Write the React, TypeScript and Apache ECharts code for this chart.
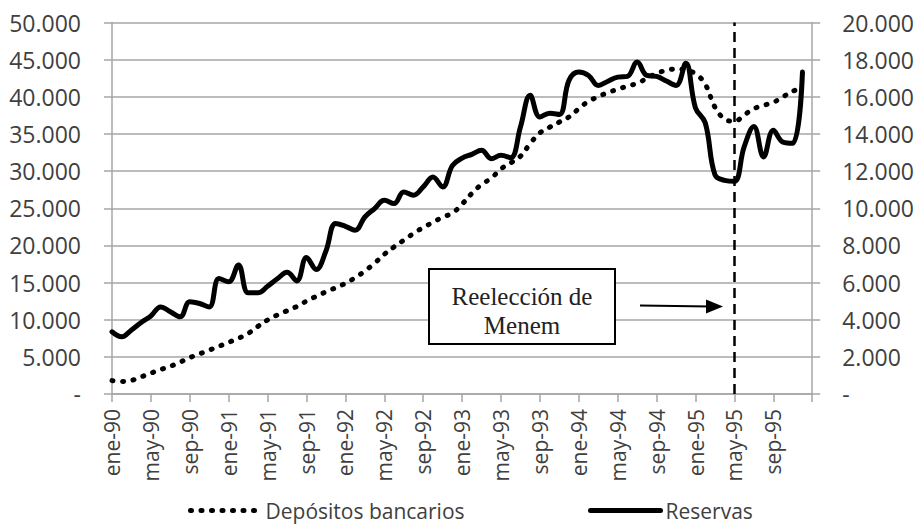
import React, { useEffect, useRef } from "react";
import * as echarts from "echarts";

const monthNames = ["ene", "feb", "mar", "abr", "may", "jun", "jul", "ago", "sep", "oct", "nov", "dic"];
const years = ["90", "91", "92", "93", "94", "95"];
const categories: string[] = [];
years.forEach((y) => monthNames.forEach((m) => categories.push(`${m}-${y}`)));
categories.push("ene-96");

const depositos = [
  1800, 1680, 1830, 2300, 2800, 3280, 3730, 4280, 4900, 5400,
  5900, 6420, 6950, 7500, 8150, 9100, 9970, 10630, 11200, 11780,
  12500, 13150, 13750, 14300, 14900, 15650, 16550, 17600, 18800, 19800,
  20700, 21600, 22400, 23100, 23800, 24350, 25550, 27000, 28200, 29050,
  30300, 31100, 32000, 33700, 35150, 35900, 36600, 37300, 38400, 39400,
  40000, 40600, 41000, 41450, 41800, 42500, 43150, 43550, 43750, 43600,
  43100, 41700, 38600, 37000, 36700, 37550, 38400, 38850, 39250, 40000,
  40750, 41200,
];

const reservas = [
  3350, 3080, 3450, 3850, 4200, 4690, 4430, 4160, 4960, 4870,
  4690, 6220, 6040, 6940, 5450, 5450, 5800, 6200, 6550, 6090,
  7350, 6700, 7700, 9180, 9030, 8820, 9530, 9980, 10430, 10250,
  10880, 10700, 11150, 11680, 11150, 12300, 12700, 12900, 13120, 12670,
  12850, 12720, 14370, 16080, 14910, 15120, 15050, 16900, 17330, 17150,
  16610, 16840, 17060, 17100, 17870, 17150, 17100, 16850, 16610, 17810,
  15400, 14600, 11800, 11500, 11450, 13300, 14400, 12760, 14200, 13560,
  13500, 17330,
];

const reeleccionMonth = "may-95";
const annotationLines = ["Reelección de", "Menem"];

const fmt = (v: number) =>
  v === 0 ? "-" : String(Math.round(v)).replace(/\B(?=(\d{3})+(?!\d))/g, ".");

const SANS = "'Open Sans', 'Noto Sans', sans-serif";
const SERIF = "'Liberation Serif', 'DejaVu Serif', serif";
const TEXT = "#404040";
const GRID = "#a6a6a6";

export default function App() {
  const ref = useRef<HTMLDivElement>(null);
  useEffect(() => {
    document.body.style.margin = "0";
    if (!ref.current) return;
    const chart = echarts.init(ref.current, undefined, { renderer: "svg" });
    const legendCommon = {
      top: 500,
      padding: 0,
      itemWidth: 70,
      itemHeight: 10,
      itemStyle: { opacity: 0 },
      lineStyle: { width: 5 },
      textStyle: { fontSize: 21, color: TEXT, fontFamily: SANS },
    };
    chart.setOption({
      animation: false,
      backgroundColor: "#fff",
      grid: { left: 112, right: 104, top: 22.5, bottom: 131, containLabel: false },
      legend: [
        { ...legendCommon, data: ["Depósitos bancarios"], left: 188 },
        { ...legendCommon, data: ["Reservas"], left: 588 },
      ],
      xAxis: {
        type: "category",
        data: categories,
        boundaryGap: false,
        axisLine: { lineStyle: { color: GRID, width: 1.5 } },
        axisTick: {
          show: true,
          length: 8,
          interval: (i: number) => i % 4 === 0,
          lineStyle: { color: GRID, width: 1.5 },
        },
        axisLabel: {
          rotate: 90,
          margin: 15,
          interval: (i: number) => i % 4 === 0 && i < 72,
          fontSize: 21,
          color: TEXT,
          fontFamily: SANS,
        },
        splitLine: { show: false },
      },
      yAxis: [
        {
          type: "value",
          min: 0,
          max: 50000,
          interval: 5000,
          position: "left",
          axisLine: { show: true, lineStyle: { color: GRID, width: 1.5 } },
          axisTick: { show: true, length: 8, lineStyle: { color: GRID, width: 1.5 } },
          axisLabel: { formatter: fmt, margin: 31, fontSize: 23, color: TEXT, fontFamily: SANS },
          splitLine: { show: true, lineStyle: { color: GRID, width: 1.5 } },
        },
        {
          type: "value",
          min: 0,
          max: 20000,
          interval: 2000,
          position: "right",
          axisLine: { show: true, lineStyle: { color: GRID, width: 1.5 } },
          axisTick: { show: true, length: 8, lineStyle: { color: GRID, width: 1.5 } },
          axisLabel: { formatter: fmt, margin: 30, fontSize: 23, color: TEXT, fontFamily: SANS },
          splitLine: { show: false },
        },
      ],
      series: [
        {
          name: "Depósitos bancarios",
          type: "line",
          yAxisIndex: 0,
          data: depositos,
          symbol: "none",
          smooth: 0.4,
          lineStyle: { color: "#000", width: 5, type: [1, 9.5], cap: "round" },
          itemStyle: { color: "#000" },
          z: 3,
        },
        {
          name: "Reservas",
          type: "line",
          yAxisIndex: 1,
          data: reservas,
          symbol: "none",
          smooth: 0.4,
          lineStyle: { color: "#000", width: 5, cap: "round", join: "round" },
          itemStyle: { color: "#000" },
          z: 4,
          markLine: {
            silent: true,
            symbol: ["none", "none"],
            label: { show: false },
            lineStyle: { color: "#000", width: 2.5, type: [10, 6] },
            data: [{ xAxis: reeleccionMonth }],
          },
        },
      ],
      graphic: [
        {
          type: "rect",
          shape: { x: 429, y: 269, width: 186, height: 75 },
          style: { fill: "#fff", stroke: "#000", lineWidth: 2 },
          z: 10,
        },
        {
          type: "text",
          x: 522,
          y: 296,
          style: {
            text: annotationLines[0],
            fontFamily: SERIF,
            fontSize: 25,
            fill: "#222",
            align: "center",
            verticalAlign: "middle",
          },
          z: 11,
        },
        {
          type: "text",
          x: 522,
          y: 325,
          style: {
            text: annotationLines[1],
            fontFamily: SERIF,
            fontSize: 25,
            fill: "#222",
            align: "center",
            verticalAlign: "middle",
          },
          z: 11,
        },
        {
          type: "line",
          shape: { x1: 640, y1: 305.5, x2: 710, y2: 306.5 },
          style: { stroke: "#000", lineWidth: 2 },
          z: 11,
        },
        {
          type: "polygon",
          shape: { points: [[706, 299.5], [723, 306.5], [706, 313.5]] },
          style: { fill: "#000" },
          z: 11,
        },
      ],
    });
    return () => chart.dispose();
  }, []);
  return <div ref={ref} style={{ width: 917, height: 525 }} />;
}
